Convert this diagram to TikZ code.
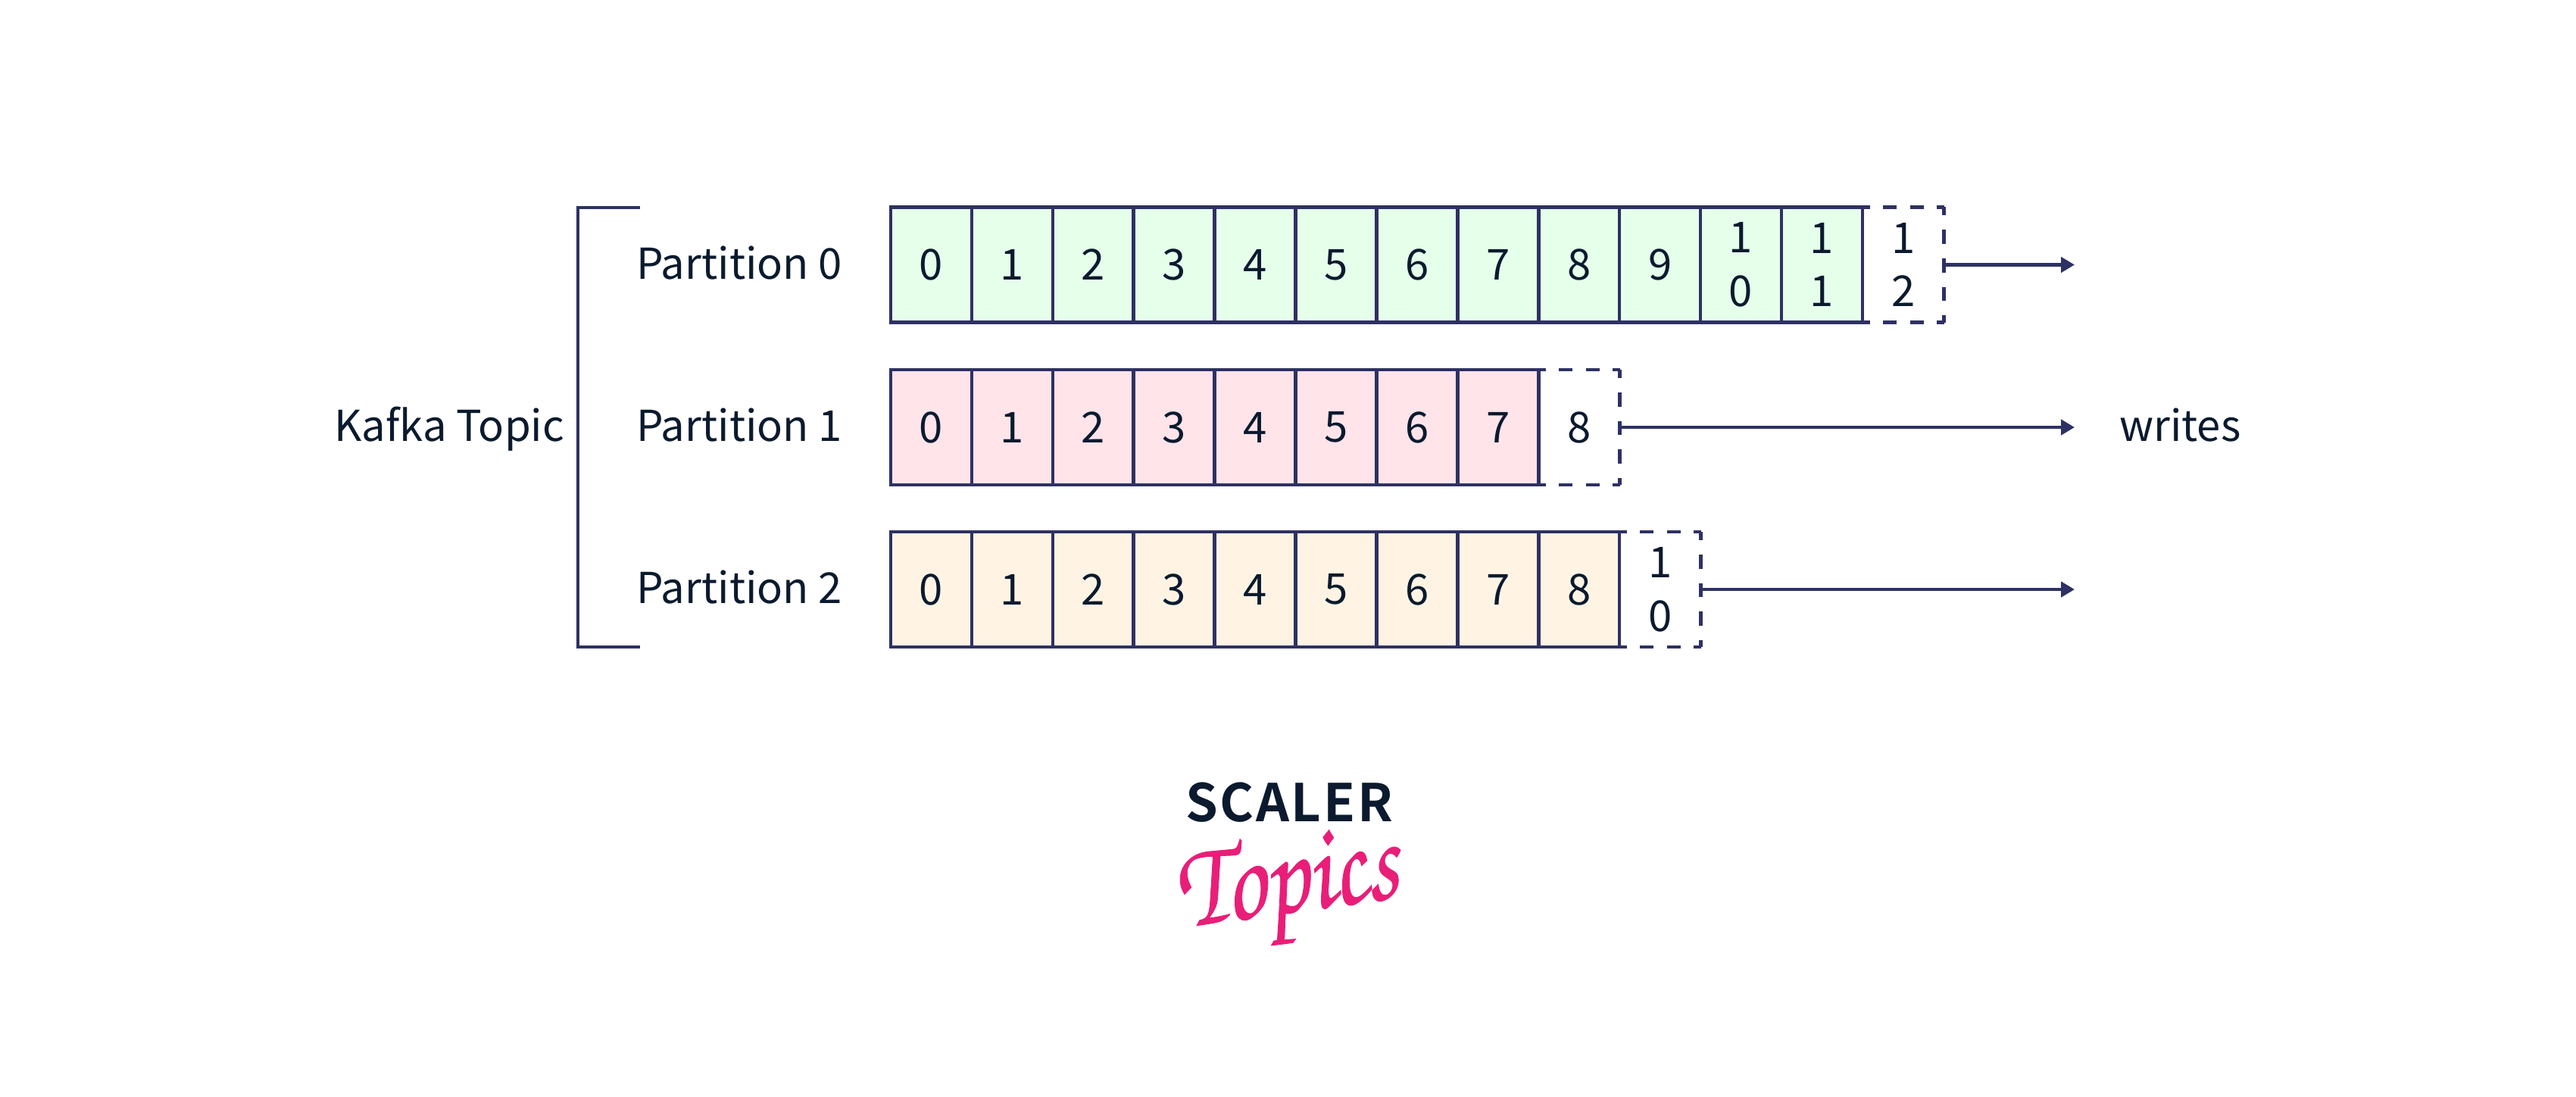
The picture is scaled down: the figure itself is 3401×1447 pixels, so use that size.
\documentclass[tikz,border=0pt]{standalone}
\usepackage{fontspec}
\usepackage{xcolor}
\usetikzlibrary{arrows.meta}
\setmainfont{Noto Sans CJK SC}
\newfontfamily\scalerfont[LetterSpace=4]{Noto Sans CJK SC Bold}
\newfontfamily\topicsfont[FakeBold=.6]{TeX Gyre Chorus}
\definecolor{navy}{HTML}{2E3163}
\definecolor{ink}{HTML}{0B1A2E}
\definecolor{cellgreen}{HTML}{E6FFEB}
\definecolor{cellpink}{HTML}{FFE4EA}
\definecolor{cellorange}{HTML}{FFF4E4}
\definecolor{logopink}{HTML}{E91E78}
\tikzset{
  txt/.style={text=ink,font=\fontsize{16}{20.1}\selectfont,inner sep=0,outer sep=0},
  cell/.style={txt,draw=navy,line width=.045cm,minimum width=1.069cm,minimum height=1.52cm,align=center},
  open/.style={txt,minimum width=1.069cm,minimum height=1.52cm,align=center},
  dashh/.style={navy,line width=.045cm,dash pattern=on .18cm off .175cm,dash phase=.09cm},
  dashv/.style={navy,line width=.045cm,dash pattern=on .187cm off .189cm,dash phase=.077cm},
  wire/.style={->,>={Triangle[length=.18cm,width=.2cm]},line width=.045cm,navy}
}
\begin{document}
\begin{tikzpicture}[x=.01cm,y=-.01cm]
\useasboundingbox (0,0) rectangle (3401,1447);
% partition 0
\foreach \t [count=\i from 0] in {0,1,2,3,4,5,6,7,8,9,{1\\0},{1\\1}}
  \node[cell,fill=cellgreen] (a\i) at (1229.5+106.9*\i,349.5) {\t};
\node[open] (a12) at (2513,349.5) {1\\2};
% partition 1
\foreach \t [count=\i from 0] in {0,1,2,3,4,5,6,7}
  \node[cell,fill=cellpink] (b\i) at (1229.5+106.9*\i,564) {\t};
\node[open] (b8) at (2085,564) {8};
% partition 2
\foreach \t [count=\i from 0] in {0,1,2,3,4,5,6,7,8}
  \node[cell,fill=cellorange] (c\i) at (1229.5+106.9*\i,778) {\t};
\node[open] (c9) at (2192,778) {1\\0};
% open ends
\foreach \e in {a12,b8,c9} {
  \draw[dashh] (\e.north west) -- (\e.north east);
  \draw[dashv] (\e.north east) -- (\e.south east);
  \draw[dashh] (\e.south west) -- (\e.south east);
}
\node[txt,anchor=base west] (p0) at (840,368.5) {Partition 0};
\node[txt,anchor=base west] (p1) at (840,582) {Partition 1};
\node[txt,anchor=base west] (p2) at (840,796) {Partition 2};
\node[txt,anchor=base east] (topic) at (745,582) {Kafka Topic};
\node[txt,anchor=base west] (writes) at (2798,582) {writes};
\coordinate (o0) at (2739,349.5);
\coordinate (o1) at (2739,564);
\coordinate (o2) at (2739,778);
\draw[wire] (a12.east) -- (o0);
\draw[wire] (b8.east) -- (o1);
\draw[wire] (c9.east) -- (o2);
\coordinate (t0) at (845,274);
\coordinate (t1) at (763,274);
\coordinate (t2) at (763,854);
\coordinate (t3) at (845,854);
\draw[navy,line width=.045cm] (t0) -- (t1) -- (t2) -- (t3);
% logo
\node[inner sep=0,text=ink,font=\fontsize{19.5}{20}\scalerfont] (scaler) at (1702,1059) {SCALER};
\node[inner sep=0,text=logopink,rotate=8,xscale=.82,font=\fontsize{46}{46}\topicsfont] (topics) at (1700,1172) {Topics};
\end{tikzpicture}
\end{document}
